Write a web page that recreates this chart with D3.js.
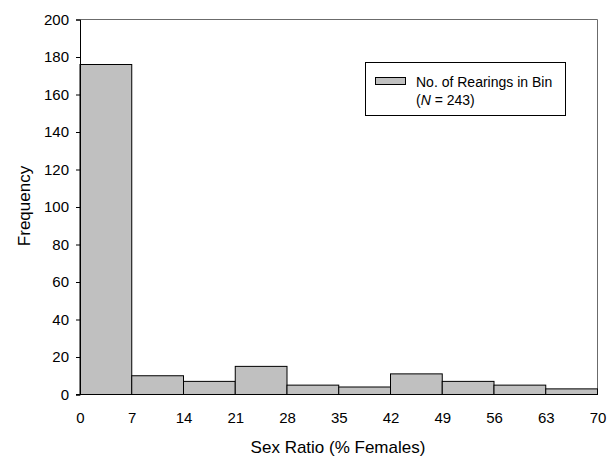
<!DOCTYPE html>
<html><head><meta charset="utf-8">
<script src="https://cdn.jsdelivr.net/npm/d3@7"></script>
<style>body{margin:0;background:#fff}svg{display:block}text{font-family:"Liberation Sans",Arial,sans-serif;fill:#000}</style>
</head><body>
<svg id="c" width="613" height="456"></svg>
<script>
const binStarts = [0, 7, 14, 21, 28, 35, 42, 49, 56, 63];
const binWidth = 7;
const frequencies = [176, 10, 7, 15, 5, 4, 11, 7, 5, 3];
const xTicks = [0, 7, 14, 21, 28, 35, 42, 49, 56, 63, 70];
const yTicks = [0, 20, 40, 60, 80, 100, 120, 140, 160, 180, 200];
const legendLines = ["No. of Rearings in Bin", "(", "N", " = 243)"];

const svg = d3.select("#c");
const m = {l: 80, r: 15.5, t: 19.5, b: 61.5};
const W = 613, H = 456;
const x = d3.scaleLinear().domain([0, 70]).range([m.l, W - m.r]);
const y = d3.scaleLinear().domain([0, 200]).range([H - m.b, m.t]);

// plot border (top/right)
svg.append("path")
  .attr("d", `M${x(0)},${y(200)}H${x(70)}V${y(0)}`)
  .attr("fill", "none").attr("stroke", "#6b6b6b").attr("stroke-width", 1);

// bars
svg.selectAll("rect.bar").data(binStarts).join("rect")
  .attr("class", "bar")
  .attr("x", d => x(d))
  .attr("width", d => x(d + binWidth) - x(d))
  .attr("y", (d, i) => y(frequencies[i]))
  .attr("height", (d, i) => y(0) - y(frequencies[i]))
  .attr("fill", "#c0c0c0").attr("stroke", "#000").attr("stroke-width", 1);

// y axis
const ya = svg.append("g").attr("transform", `translate(${x(0)},0)`)
  .call(d3.axisLeft(y).tickValues(yTicks).tickSize(4).tickPadding(7).tickFormat(d3.format("d")));
ya.select(".domain").attr("stroke", "#000");
ya.selectAll("line").attr("stroke", "#000");
ya.selectAll("text").attr("font-size", 15).attr("font-family", "Liberation Sans, Arial, sans-serif");

// x axis
const xa = svg.append("g").attr("transform", `translate(0,${y(0)})`)
  .call(d3.axisBottom(x).tickValues(xTicks).tickSize(0).tickPadding(18).tickFormat(d3.format("d")));
xa.select(".domain").attr("stroke", "#000").attr("d", `M${x(0) - 4},0H${x(70)}`);
xa.selectAll("text").attr("font-size", 15).attr("font-family", "Liberation Sans, Arial, sans-serif");

// titles
svg.append("text").attr("x", 338).attr("y", 453).attr("text-anchor", "middle")
  .attr("font-size", 17).text("Sex Ratio (% Females)");
svg.append("text").attr("transform", "translate(30,206) rotate(-90)").attr("text-anchor", "middle")
  .attr("font-size", 17).text("Frequency");

// legend
const lg = svg.append("g");
lg.append("rect").attr("x", 365.5).attr("y", 62.5).attr("width", 200).attr("height", 53)
  .attr("fill", "#fff").attr("stroke", "#000").attr("stroke-width", 1);
lg.append("rect").attr("x", 375.5).attr("y", 77.5).attr("width", 30).attr("height", 7)
  .attr("fill", "#c0c0c0").attr("stroke", "#000").attr("stroke-width", 1);
lg.append("text").attr("x", 416).attr("y", 87).attr("font-size", 14).text(legendLines[0]);
const t2 = lg.append("text").attr("x", 416).attr("y", 105).attr("font-size", 14);
t2.append("tspan").text(legendLines[1]);
t2.append("tspan").attr("font-style", "italic").text(legendLines[2]);
t2.append("tspan").text(legendLines[3]);
</script>
</body></html>
